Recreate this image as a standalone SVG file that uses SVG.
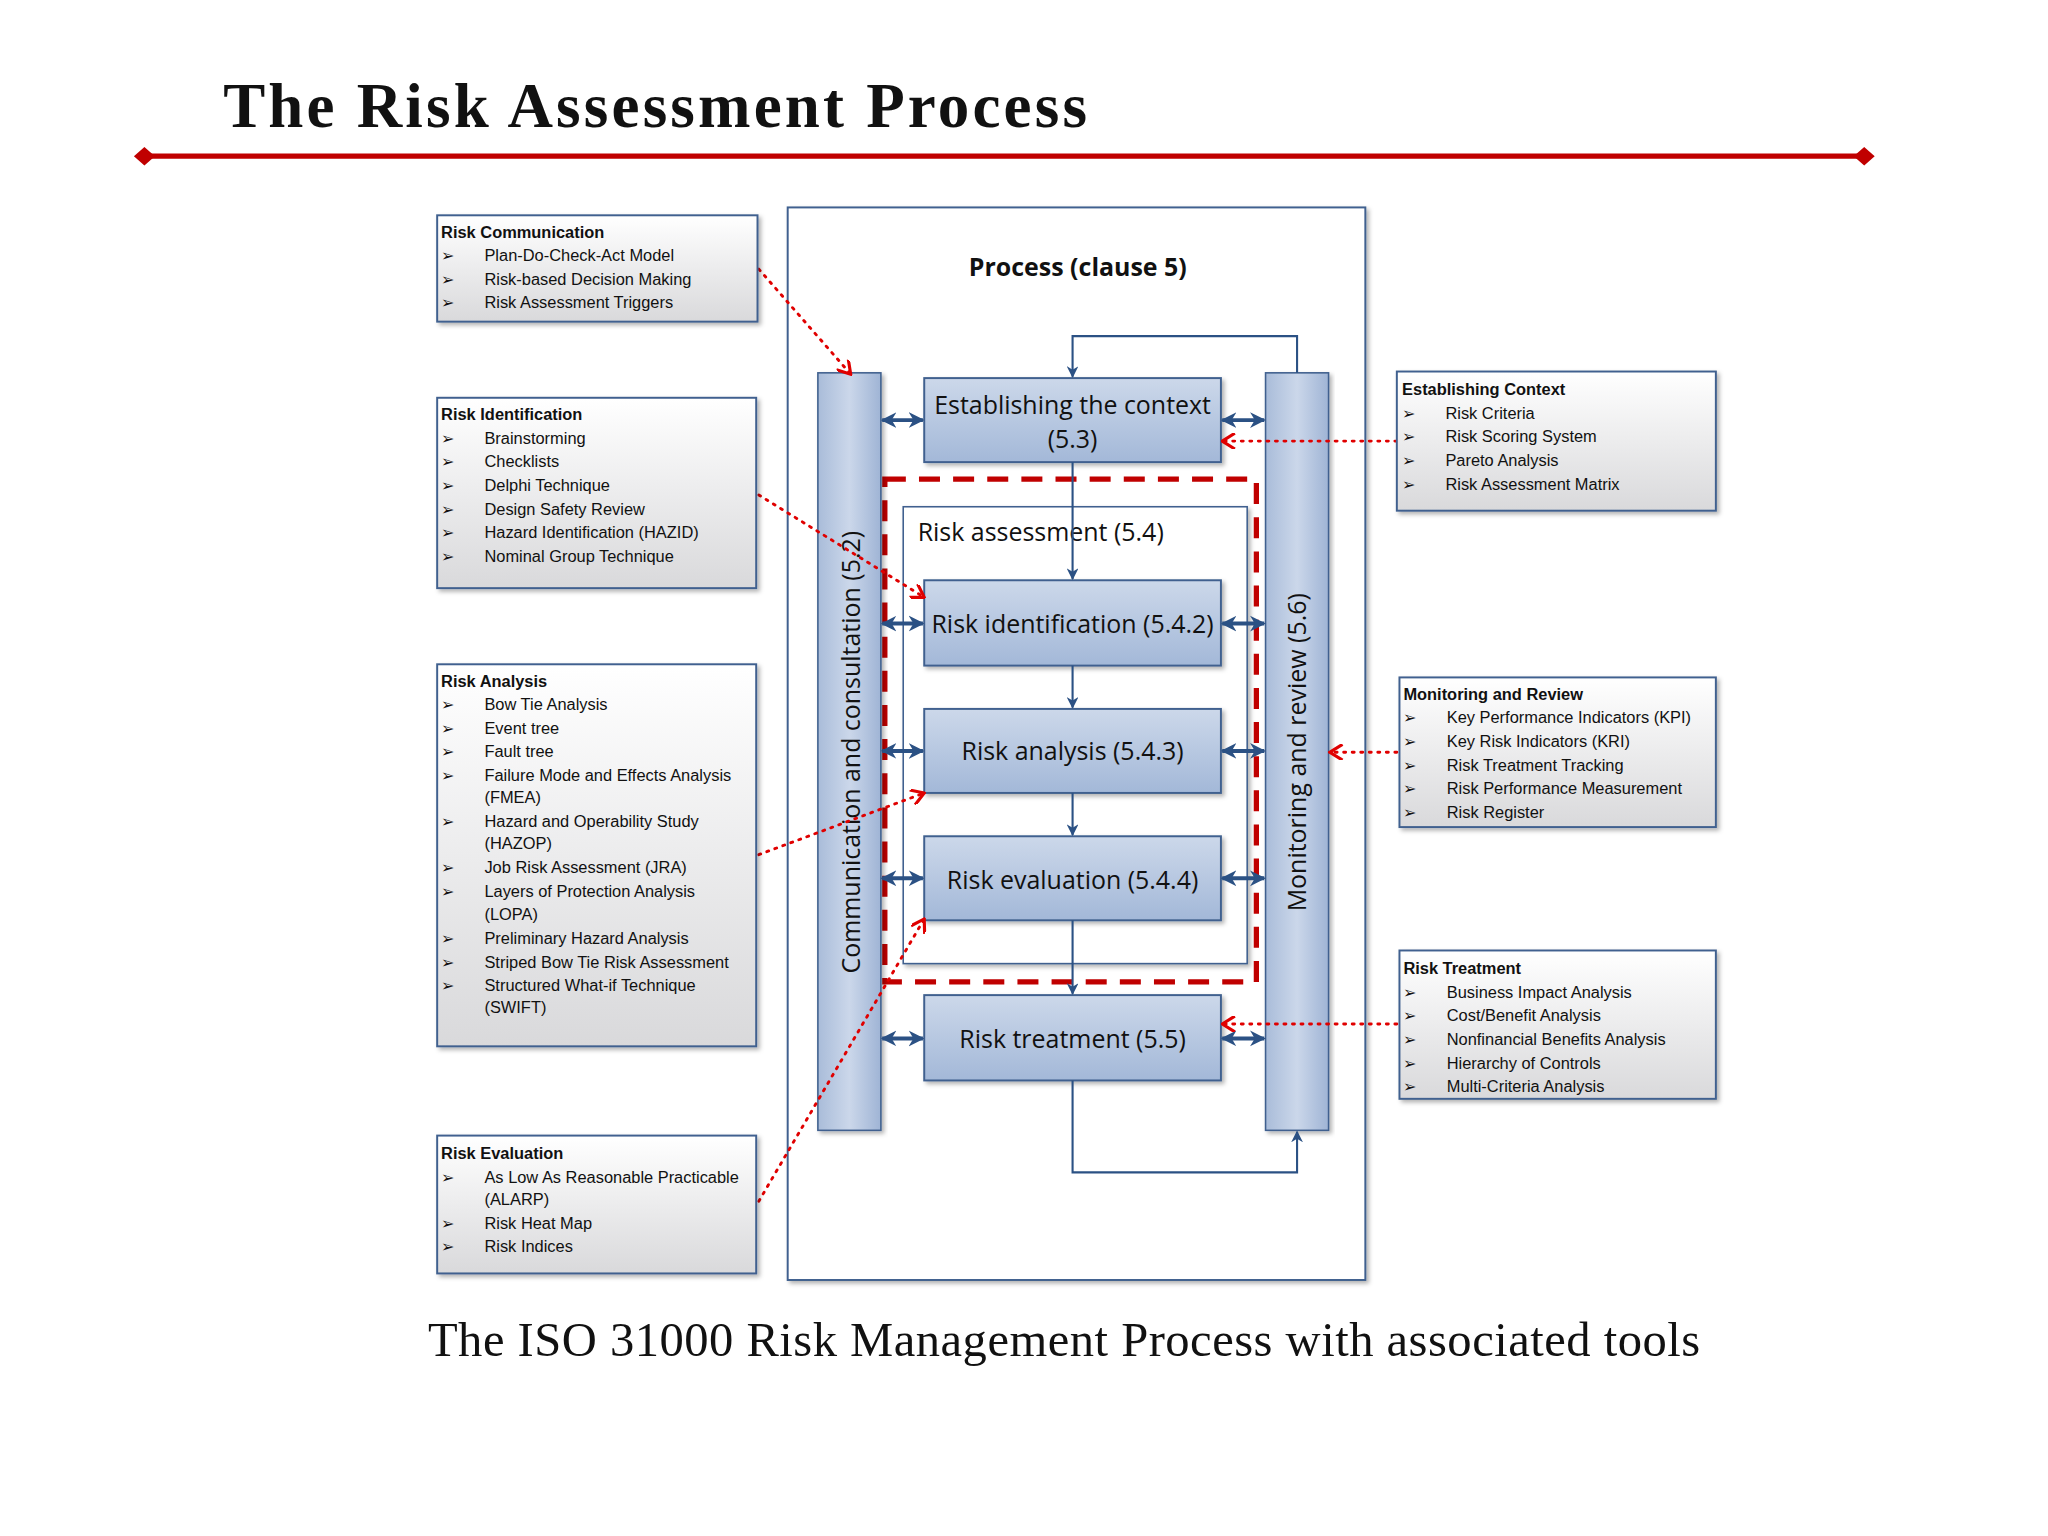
<svg xmlns="http://www.w3.org/2000/svg" width="2048" height="1536" viewBox="0 0 2048 1536">
<defs>
<linearGradient id="gbox" x1="0" y1="0" x2="0" y2="1"><stop offset="0" stop-color="#ffffff"/><stop offset="1" stop-color="#d9d9db"/></linearGradient>
<linearGradient id="gblue" x1="0" y1="0" x2="0" y2="1"><stop offset="0" stop-color="#ccd8ea"/><stop offset="1" stop-color="#a3b8d8"/></linearGradient>
<linearGradient id="gbar" x1="0" y1="0" x2="1" y2="0"><stop offset="0" stop-color="#a9bcd9"/><stop offset="0.5" stop-color="#cbd7ea"/><stop offset="1" stop-color="#9fb4d5"/></linearGradient>
<marker id="ab" viewBox="0 0 10 10" refX="9" refY="5" markerWidth="9" markerHeight="9" orient="auto-start-reverse" markerUnits="userSpaceOnUse"><path d="M0,0 L10,5 L0,10 L3,5 z" fill="#2b5184"/></marker>
<marker id="ab2" viewBox="0 0 10 10" refX="9" refY="5" markerWidth="12" markerHeight="13" orient="auto-start-reverse" markerUnits="userSpaceOnUse"><path d="M0,0 L10,5 L0,10 L3,5 z" fill="#2b5184"/></marker>
<marker id="ar" viewBox="0 0 10 10" refX="9" refY="5" markerWidth="12" markerHeight="12" orient="auto" markerUnits="userSpaceOnUse"><path d="M1,0 L9,5 L1,10" fill="none" stroke="#e00000" stroke-width="2"/></marker>
<filter id="sh" x="-5%" y="-5%" width="115%" height="115%"><feDropShadow dx="2" dy="2" stdDeviation="1.5" flood-color="#000" flood-opacity="0.3"/></filter>
</defs>
<style>
.tb{fill:url(#gbox);stroke:#41618f;stroke-width:1.5;filter:url(#sh)}
.bb{fill:url(#gblue);stroke:#41618f;stroke-width:1.5;filter:url(#sh)}
.bar{fill:url(#gbar);stroke:#41618f;stroke-width:1.2;filter:url(#sh)}
.t{font-family:"Liberation Sans",Arial,sans-serif;font-size:12.5px;fill:#111}
.h{font-weight:bold}
.bt{font-family:"Open Sans","Liberation Sans",sans-serif;font-size:19px;fill:#111}
.c{stroke:#2b5184;stroke-width:1.6;fill:none}
.d{stroke:#2b5184;stroke-width:3;fill:none}
.rd{stroke:#e00000;stroke-width:2.2;fill:none;stroke-dasharray:1.5 5;stroke-linecap:round}
</style>
<rect width="2048" height="1536" fill="#fff"/>
<g transform="scale(1.31282)">
<g id="title">
<text x="170" y="97" font-family="'Liberation Serif',serif" font-weight="bold" font-size="48" fill="#111" textLength="658" lengthAdjust="spacing">The Risk Assessment Process</text>
<line x1="110" y1="119" x2="1420" y2="119" stroke="#c00000" stroke-width="4"/>
<path d="M102,119 L110,112 L118,119 L110,126 z M1412,119 L1420,112 L1428,119 L1420,126 z" fill="#c00000"/>
</g>
<g id="process">
<rect x="600" y="158" width="440" height="817" fill="#fff" stroke="#41618f" stroke-width="1.5" filter="url(#sh)"/>
<text x="821" y="210" text-anchor="middle" class="bt" font-weight="bold" font-size="18">Process (clause 5)</text>
</g>
<g id="riskassessment">
<rect x="688" y="386" width="262" height="348" fill="#fff" stroke="#41618f" stroke-width="1.2" filter="url(#sh)"/>
<text x="699" y="412" class="bt">Risk assessment (5.4)</text>
</g>
<rect x="674" y="365" width="283" height="383" fill="none" stroke="#c00000" stroke-width="4" stroke-dasharray="16 10"/>
<g id="comm"><rect class="bar" x="623" y="284" width="48" height="577"/>
<text class="bt" font-size="18.5" transform="translate(655,573) rotate(-90)" text-anchor="middle">Communication and consultation (5.2)</text></g>
<g id="mon"><rect class="bar" x="964" y="284" width="48" height="577"/>
<text class="bt" font-size="18.5" transform="translate(995,573) rotate(-90)" text-anchor="middle">Monitoring and review (5.6)</text></g>
<g id="context"><rect class="bb" x="704" y="288" width="226" height="64"/>
<text class="bt" x="817" y="315" text-anchor="middle">Establishing the context</text><text class="bt" x="817" y="341" text-anchor="middle">(5.3)</text></g>
<g id="ident"><rect class="bb" x="704" y="442" width="226" height="65"/><text class="bt" x="817" y="482" text-anchor="middle">Risk identification (5.4.2)</text></g>
<g id="analysis"><rect class="bb" x="704" y="540" width="226" height="64"/><text class="bt" x="817" y="579" text-anchor="middle">Risk analysis (5.4.3)</text></g>
<g id="evaluation"><rect class="bb" x="704" y="637" width="226" height="64"/><text class="bt" x="817" y="677" text-anchor="middle">Risk evaluation (5.4.4)</text></g>
<g id="treatment"><rect class="bb" x="704" y="758" width="226" height="65"/><text class="bt" x="817" y="798" text-anchor="middle">Risk treatment (5.5)</text></g>
<g id="connectors">
<path class="c" d="M988,284 V256 H817 V287" marker-end="url(#ab)"/>
<path class="c" d="M817,352 V441" marker-end="url(#ab)"/>
<path class="c" d="M817,507 V539" marker-end="url(#ab)"/>
<path class="c" d="M817,604 V636" marker-end="url(#ab)"/>
<path class="c" d="M817,701 V757" marker-end="url(#ab)"/>
<path class="c" d="M817,823 V893 H988 V862" marker-end="url(#ab)"/>
<path class="d" d="M672,320 H703" marker-start="url(#ab2)" marker-end="url(#ab2)"/>
<path class="d" d="M672,475 H703" marker-start="url(#ab2)" marker-end="url(#ab2)"/>
<path class="d" d="M672,572 H703" marker-start="url(#ab2)" marker-end="url(#ab2)"/>
<path class="d" d="M672,669 H703" marker-start="url(#ab2)" marker-end="url(#ab2)"/>
<path class="d" d="M672,791 H703" marker-start="url(#ab2)" marker-end="url(#ab2)"/>
<path class="d" d="M931,320 H963" marker-start="url(#ab2)" marker-end="url(#ab2)"/>
<path class="d" d="M931,475 H963" marker-start="url(#ab2)" marker-end="url(#ab2)"/>
<path class="d" d="M931,572 H963" marker-start="url(#ab2)" marker-end="url(#ab2)"/>
<path class="d" d="M931,669 H963" marker-start="url(#ab2)" marker-end="url(#ab2)"/>
<path class="d" d="M931,791 H963" marker-start="url(#ab2)" marker-end="url(#ab2)"/>
<path class="rd" d="M578,205 L648,285" marker-end="url(#ar)"/>
<path class="rd" d="M578,377 L704,455" marker-end="url(#ar)"/>
<path class="rd" d="M578,651 L704,604" marker-end="url(#ar)"/>
<path class="rd" d="M578,915 L704,700" marker-end="url(#ar)"/>
<path class="rd" d="M1064,336 L931,336" marker-end="url(#ar)"/>
<path class="rd" d="M1064,573 L1013,573" marker-end="url(#ar)"/>
<path class="rd" d="M1064,780 L931,780" marker-end="url(#ar)"/>
</g>
<g id="tool-comm"><rect class="tb" x="333" y="164" width="244" height="81"/>
<text class="t h" x="336" y="181">Risk Communication</text>
<text class="t" x="336" y="199">➢<tspan x="369">Plan-Do-Check-Act Model</tspan></text>
<text class="t" x="336" y="217">➢<tspan x="369">Risk-based Decision Making</tspan></text>
<text class="t" x="336" y="235">➢<tspan x="369">Risk Assessment Triggers</tspan></text></g>
<g id="tool-ident"><rect class="tb" x="333" y="303" width="243" height="145"/>
<text class="t h" x="336" y="320">Risk Identification</text>
<text class="t" x="336" y="338">➢<tspan x="369">Brainstorming</tspan></text>
<text class="t" x="336" y="356">➢<tspan x="369">Checklists</tspan></text>
<text class="t" x="336" y="374">➢<tspan x="369">Delphi Technique</tspan></text>
<text class="t" x="336" y="392">➢<tspan x="369">Design Safety Review</tspan></text>
<text class="t" x="336" y="410">➢<tspan x="369">Hazard Identification (HAZID)</tspan></text>
<text class="t" x="336" y="428">➢<tspan x="369">Nominal Group Technique</tspan></text></g>
<g id="tool-analysis"><rect class="tb" x="333" y="506" width="243" height="291"/>
<text class="t h" x="336" y="523">Risk Analysis</text>
<text class="t" x="336" y="541">➢<tspan x="369">Bow Tie Analysis</tspan></text>
<text class="t" x="336" y="559">➢<tspan x="369">Event tree</tspan></text>
<text class="t" x="336" y="577">➢<tspan x="369">Fault tree</tspan></text>
<text class="t" x="336" y="595">➢<tspan x="369">Failure Mode and Effects Analysis</tspan></text>
<text class="t" x="369" y="612">(FMEA)</text>
<text class="t" x="336" y="630">➢<tspan x="369">Hazard and Operability Study</tspan></text>
<text class="t" x="369" y="647">(HAZOP)</text>
<text class="t" x="336" y="665">➢<tspan x="369">Job Risk Assessment (JRA)</tspan></text>
<text class="t" x="336" y="683">➢<tspan x="369">Layers of Protection Analysis</tspan></text>
<text class="t" x="369" y="701">(LOPA)</text>
<text class="t" x="336" y="719">➢<tspan x="369">Preliminary Hazard Analysis</tspan></text>
<text class="t" x="336" y="737">➢<tspan x="369">Striped Bow Tie Risk Assessment</tspan></text>
<text class="t" x="336" y="755">➢<tspan x="369">Structured What-if Technique</tspan></text>
<text class="t" x="369" y="772">(SWIFT)</text></g>
<g id="tool-eval"><rect class="tb" x="333" y="865" width="243" height="105"/>
<text class="t h" x="336" y="883">Risk Evaluation</text>
<text class="t" x="336" y="901">➢<tspan x="369">As Low As Reasonable Practicable</tspan></text>
<text class="t" x="369" y="918">(ALARP)</text>
<text class="t" x="336" y="936">➢<tspan x="369">Risk Heat Map</tspan></text>
<text class="t" x="336" y="954">➢<tspan x="369">Risk Indices</tspan></text></g>
<g id="tool-context"><rect class="tb" x="1064" y="283" width="243" height="106"/>
<text class="t h" x="1068" y="301">Establishing Context</text>
<text class="t" x="1068" y="319">➢<tspan x="1101">Risk Criteria</tspan></text>
<text class="t" x="1068" y="337">➢<tspan x="1101">Risk Scoring System</tspan></text>
<text class="t" x="1068" y="355">➢<tspan x="1101">Pareto Analysis</tspan></text>
<text class="t" x="1068" y="373">➢<tspan x="1101">Risk Assessment Matrix</tspan></text></g>
<g id="tool-monitor"><rect class="tb" x="1066" y="516" width="241" height="114"/>
<text class="t h" x="1069" y="533">Monitoring and Review</text>
<text class="t" x="1069" y="551">➢<tspan x="1102">Key Performance Indicators (KPI)</tspan></text>
<text class="t" x="1069" y="569">➢<tspan x="1102">Key Risk Indicators (KRI)</tspan></text>
<text class="t" x="1069" y="587">➢<tspan x="1102">Risk Treatment Tracking</tspan></text>
<text class="t" x="1069" y="605">➢<tspan x="1102">Risk Performance Measurement</tspan></text>
<text class="t" x="1069" y="623">➢<tspan x="1102">Risk Register</tspan></text></g>
<g id="tool-treat"><rect class="tb" x="1066" y="724" width="241" height="113"/>
<text class="t h" x="1069" y="742">Risk Treatment</text>
<text class="t" x="1069" y="760">➢<tspan x="1102">Business Impact Analysis</tspan></text>
<text class="t" x="1069" y="778">➢<tspan x="1102">Cost/Benefit Analysis</tspan></text>
<text class="t" x="1069" y="796">➢<tspan x="1102">Nonfinancial Benefits Analysis</tspan></text>
<text class="t" x="1069" y="814">➢<tspan x="1102">Hierarchy of Controls</tspan></text>
<text class="t" x="1069" y="832">➢<tspan x="1102">Multi-Criteria Analysis</tspan></text></g>
<text x="326" y="1033" font-family="'Liberation Serif',serif" font-size="37" fill="#111" textLength="969" lengthAdjust="spacing">The ISO 31000 Risk Management Process with associated tools</text>
</g>
</svg>
